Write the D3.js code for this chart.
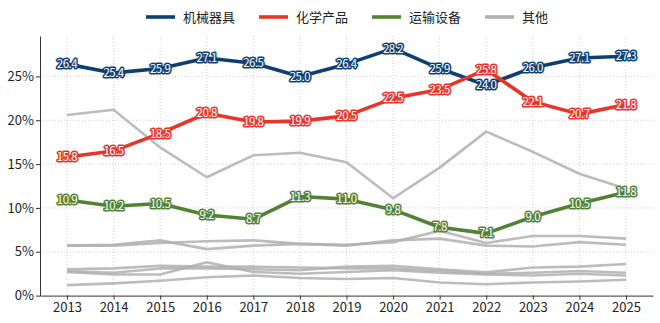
<!DOCTYPE html>
<html>
<head>
<meta charset="utf-8">
<script src="https://cdn.jsdelivr.net/npm/d3@7"></script>
<style>
  body { margin: 0; background: #fff; }
  svg { display: block; font-family: "Noto Sans CJK SC", "Noto Sans", sans-serif; }
</style>
</head>
<body>
<script>
const years = [2013, 2014, 2015, 2016, 2017, 2018, 2019, 2020, 2021, 2022, 2023, 2024, 2025];
const yTicks = [0, 5, 10, 15, 20, 25];

// highlighted series
const machinery = [26.4, 25.4, 25.9, 27.1, 26.5, 25.0, 26.4, 28.2, 25.9, 24.0, 26.0, 27.1, 27.3];
const chemicals = [15.8, 16.5, 18.5, 20.8, 19.8, 19.9, 20.5, 22.5, 23.5, 25.8, 22.1, 20.7, 21.8];
const transport = [10.9, 10.2, 10.5, 9.2, 8.7, 11.3, 11.0, 9.8, 7.8, 7.1, 9.0, 10.5, 11.8];

// "其他" – remaining categories, all gray
const other1 = [20.6, 21.2, 16.9, 13.5, 16.0, 16.3, 15.2, 11.1, 14.6, 18.7, 16.4, 13.9, 12.2];
const other2 = [5.7, 5.8, 6.3, 5.3, 5.7, 5.9, 5.8, 6.1, 7.4, 6.0, 6.8, 6.8, 6.5];
const other3 = [5.7, 5.7, 6.0, 6.2, 6.3, 5.9, 5.7, 6.3, 6.5, 5.7, 5.6, 6.1, 5.8];
const other4 = [3.0, 3.1, 3.4, 3.3, 3.3, 3.2, 3.1, 3.1, 2.8, 2.5, 2.6, 2.8, 2.6];
const other5 = [2.7, 2.4, 2.4, 3.8, 2.7, 2.5, 2.7, 2.9, 2.6, 2.4, 2.3, 2.5, 2.3];
const other6 = [2.8, 2.6, 3.1, 3.1, 3.0, 2.9, 3.3, 3.4, 3.0, 2.65, 3.2, 3.3, 3.6];
const other7 = [1.2, 1.4, 1.7, 2.1, 2.3, 2.0, 1.9, 2.0, 1.5, 1.3, 1.5, 1.6, 1.8];

const mainSeries = [
    { name: '机械器具', values: machinery, color: '#0e3f73' },
    { name: '化学产品', values: chemicals, color: '#e8352a' },
    { name: '运输设备', values: transport, color: '#548235' }
];
const otherSeries = [other1, other2, other3, other4, other5, other6, other7];
const grayColor = '#b0b0b0';

const width = 660, height = 323;
const margin = { top: 36, right: 7, bottom: 27.4, left: 40 };

const svg = d3.select('body')
    .append('svg')
    .attr('width', width)
    .attr('height', height);

const x = d3.scalePoint()
    .domain(years)
    .range([margin.left, width - margin.right])
    .padding(0.58);

const maxVal = d3.max(mainSeries.concat(otherSeries.map(v => ({ values: v }))), s => d3.max(s.values));
const y = d3.scaleLinear()
    .domain([0, maxVal * 1.05])
    .range([height - margin.bottom, margin.top]);

// Grid lines
const grid = svg.append('g');
grid.selectAll('.vgrid')
    .data(years)
    .enter()
    .append('line')
    .attr('x1', d => x(d)).attr('x2', d => x(d))
    .attr('y1', margin.top).attr('y2', height - margin.bottom)
    .style('stroke', '#c8c8c8')
    .style('stroke-width', 0.8)
    .style('stroke-dasharray', '1,2');
grid.selectAll('.hgrid')
    .data(yTicks.slice(1))
    .enter()
    .append('line')
    .attr('x1', margin.left).attr('x2', width - margin.right)
    .attr('y1', d => y(d)).attr('y2', d => y(d))
    .style('stroke', '#c8c8c8')
    .style('stroke-width', 0.8)
    .style('stroke-dasharray', '1,2');

// Axes
const xAxis = svg.append('g')
    .attr('transform', `translate(0, ${height - margin.bottom})`)
    .call(d3.axisBottom(x).tickSize(4).tickSizeOuter(0).tickPadding(3));
const yAxis = svg.append('g')
    .attr('transform', `translate(${margin.left}, 0)`)
    .call(d3.axisLeft(y).tickValues(yTicks).tickFormat(d => d + '%').tickSize(4).tickSizeOuter(0).tickPadding(2));
[xAxis, yAxis].forEach(a => {
    a.select('.domain').style('stroke', '#333').style('stroke-width', 1);
    a.selectAll('.tick line').style('stroke', '#333');
    a.selectAll('.tick text')
        .style('font-family', '"Noto Sans CJK SC", "Noto Sans", sans-serif')
        .style('font-size', '13px')
        .style('fill', '#222');
});

const line = d3.line()
    .x((d, i) => x(years[i]))
    .y(d => y(d));

// Gray "other" lines
svg.append('g')
    .selectAll('path')
    .data(otherSeries)
    .enter()
    .append('path')
    .attr('d', d => line(d))
    .style('fill', 'none')
    .style('stroke', grayColor)
    .style('stroke-opacity', 0.85)
    .style('stroke-width', 2.6)
    .style('stroke-linejoin', 'round');

// Highlighted lines
svg.append('g')
    .selectAll('path')
    .data(mainSeries)
    .enter()
    .append('path')
    .attr('d', d => line(d.values))
    .style('fill', 'none')
    .style('stroke', d => d.color)
    .style('stroke-width', 3.6)
    .style('stroke-linejoin', 'round');

// Value labels
mainSeries.forEach(s => {
    svg.append('g')
        .selectAll('text')
        .data(s.values)
        .enter()
        .append('text')
        .attr('x', (d, i) => x(years[i]))
        .attr('y', d => y(d))
        .attr('dy', '0.36em')
        .attr('text-anchor', 'middle')
        .text(d => d.toFixed(1))
        .style('font-size', '11.5px')
        .style('letter-spacing', '-0.5px')
        .style('fill', '#fff')
        .style('stroke', s.color)
        .style('stroke-width', 3)
        .style('stroke-linejoin', 'round')
        .style('paint-order', 'stroke');
});

// Legend
const legendItems = mainSeries.map(s => ({ name: s.name, color: s.color }))
    .concat([{ name: '其他', color: grayColor }]);
const legendX = [146, 259, 372, 485];
const legend = svg.append('g');
legendItems.forEach((d, i) => {
    const g = legend.append('g').attr('transform', `translate(${legendX[i]}, 17)`);
    g.append('line')
        .attr('x1', 0).attr('x2', 29)
        .style('stroke', d.color)
        .style('stroke-width', 3.6);
    g.append('text')
        .attr('x', 37)
        .attr('dy', '0.35em')
        .text(d.name)
        .style('font-size', '13px')
        .style('fill', '#222');
});
</script>
</body>
</html>
